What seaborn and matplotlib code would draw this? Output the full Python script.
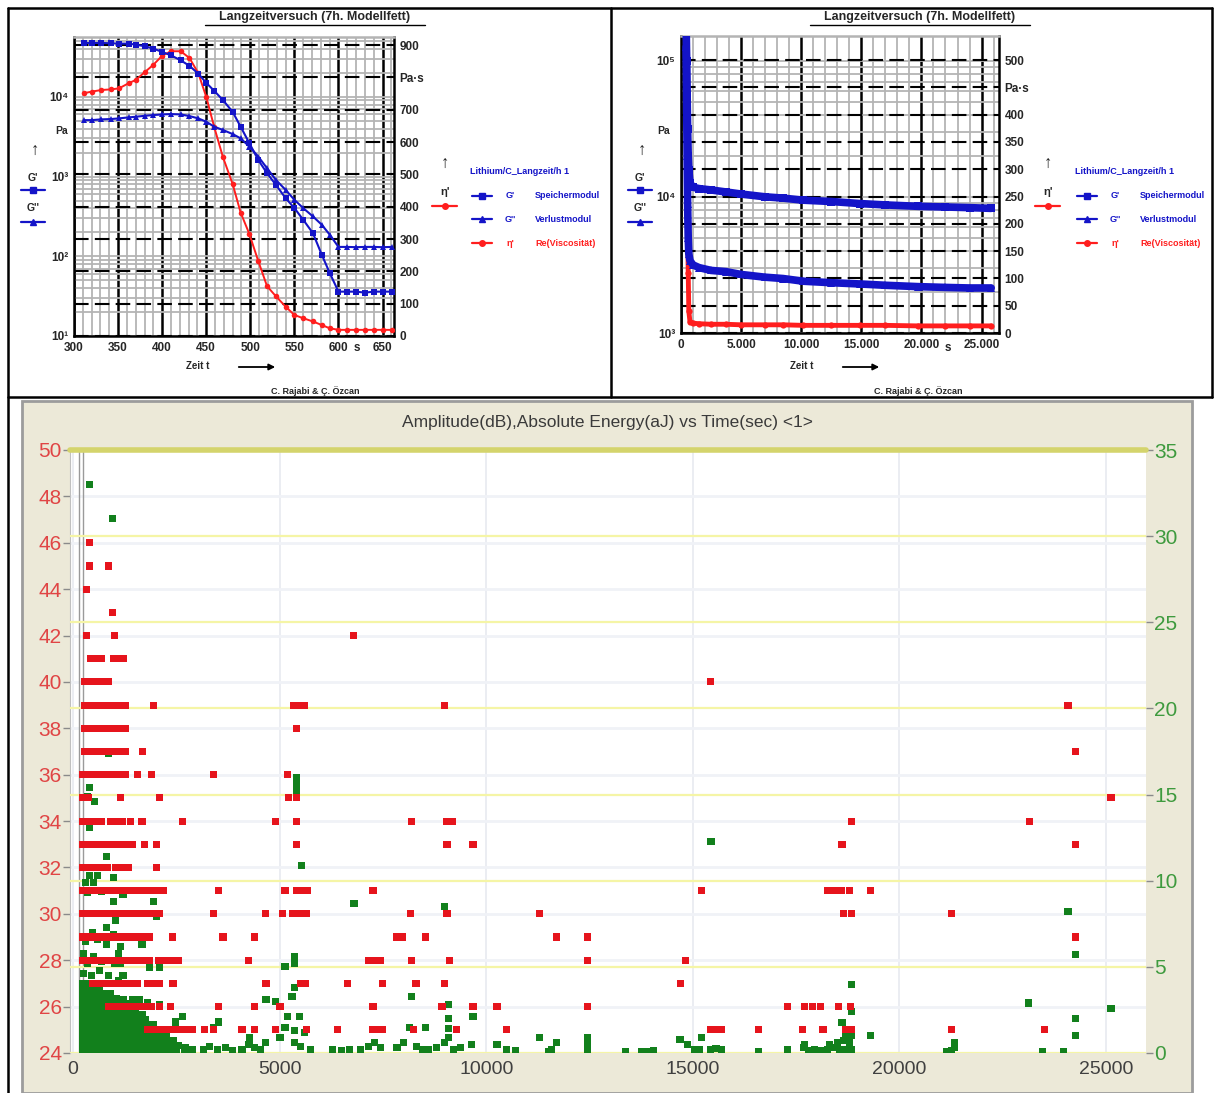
# -*- coding: utf-8 -*-
# Langzeitversuch panels (rheometer) + AE amplitude / energy scatter
import numpy as np
import pandas as pd
import matplotlib
matplotlib.use('Agg')
from matplotlib import pyplot as plt
from matplotlib.lines import Line2D
from matplotlib.patches import Rectangle, FancyArrowPatch
from matplotlib.ticker import MultipleLocator, LogLocator, NullFormatter
import seaborn as sns

sns.set_style("white")
plt.rcParams['font.family'] = ['Liberation Sans', 'DejaVu Sans']

# ~~~~~~~~~~~~~~~~~~~~~~~~~~~~~~~~~~~~~~~~~~~~~~~~~~~~~~~~~~~~~~~~~~~~~~~~
# Top left: detail 300 ... 660 s
zoom_time = [311, 320, 331, 342, 351, 362, 370, 381, 390, 400, 410, 421, 431, 441, 450, 459, 469, 480,
             489, 499, 509, 519, 529, 540, 550, 560, 571, 581, 590, 600, 610, 620, 630, 640, 650, 661]
zoom_g1 = [47300, 47300, 47300, 47000, 46450, 46450, 45100, 42950, 40180, 36560, 33110, 28710, 24430, 19500,
           14960, 11890, 9080, 6460, 4220, 2610, 1615, 1100, 787, 537, 402, 287, 195, 105, 62, 36,
           36, 36, 35, 36, 36, 36]
zoom_g2 = [5100, 5100, 5210, 5260, 5360, 5520, 5620, 5790, 5900, 6010, 6070, 6010, 5730, 5360,
           4870, 4220, 3830, 3410, 3010, 2370, 1780, 1270, 908, 681, 511, 402, 316, 249, 187, 131,
           131, 130, 131, 131, 130, 131]
zoom_eta = [751, 756, 761, 763, 766, 782, 792, 818, 839, 867, 881, 881, 860, 813, 740, 647, 553, 470,
            382, 315, 232, 154, 123, 91, 65, 55, 45, 34, 24, 19, 19, 19, 19, 19, 19, 19]

# Top right: whole run
run_time = [430, 470, 510, 550, 600, 650, 750, 1000, 1500, 2500, 3750, 5000, 6950, 8500, 10150,
            12500, 14900, 17000, 19700, 22000, 24000, 25800]
run_g1 = [178000, 100000, 56200, 31600, 20000, 15850, 12590, 11750, 11480, 11220, 10840, 10470, 10000,
          9770, 9440, 9230, 8910, 8710, 8510, 8410, 8320, 8220]
run_g2 = [125900, 50100, 19950, 8910, 5010, 3800, 3390, 3160, 3020, 2880, 2820, 2690, 2570, 2510,
          2400, 2340, 2290, 2240, 2190, 2160, 2140, 2140]
run_eta = [560, 430, 320, 200, 110, 40, 20, 18, 17, 16, 16, 15, 15, 15, 14, 14, 14, 14, 13, 13, 13, 13]

# Bottom: AE hits, amplitude (dB) per level -> hit times (s)
amp_levels = [46, 45, 44, 43, 42, 41, 40, 39, 38, 37, 36, 35, 34, 33, 32, 31, 30, 29, 28, 27, 26, 25]
amp_level_times = [
    [400],
    [400, 850],
    [330],
    [950],
    [330, 1000, 6780],
    [430, 560, 700, 980, 1100, 1210],
    [280, 420, 560, 700, 860, 15420],
    [280, 420, 560, 700, 860, 1000, 1140, 1270, 1940, 5330, 5470, 5600, 8980, 24080],
    [280, 420, 560, 700, 840, 980, 1120, 1270, 5400],
    [280, 420, 560, 700, 840, 980, 1120, 1270, 1690, 24270],
    [230, 380, 530, 700, 830, 980, 1120, 1260, 1570, 1910, 3390, 5180],
    [230, 380, 1140, 2100, 5220, 5400, 25120],
    [230, 380, 530, 700, 900, 1050, 1200, 1400, 1670, 2660, 4890, 5400, 8200, 9050, 9180, 18850, 23140],
    [230, 380, 530, 680, 830, 970, 1140, 1290, 1450, 1740, 2030, 5400, 9050, 9680, 18610, 24270],
    [230, 380, 530, 680, 830, 1020, 1170, 1330, 2030],
    [230, 380, 530, 680, 830, 980, 1130, 1280, 1450, 1620, 1770, 1920, 2060, 2180, 3510, 5130, 5420,
     5560, 5680, 7260, 15220, 18250, 18420, 18600, 18800, 19310],
    [230, 380, 530, 680, 830, 960, 1090, 1210, 1350, 1500, 1650, 1800, 1950, 2100, 3390, 4650, 5060,
     5320, 5480, 5640, 8160, 9050, 11300, 18650, 18850, 21270],
    [230, 380, 530, 680, 830, 980, 1130, 1280, 1430, 1580, 1730, 1860, 2400, 3630, 4400, 7840, 7980,
     8520, 11710, 12440, 24270],
    [230, 380, 530, 680, 830, 980, 1130, 1280, 1430, 1580, 1730, 1860, 2060, 2200, 2350, 2540, 4240,
     7150, 7300, 7450, 8200, 9120, 12440, 14830],
    [480, 630, 780, 930, 1080, 1230, 1380, 1570, 1810, 1960, 2100, 2420, 4670, 5500, 5620, 6650, 7480,
     8300, 9000, 14700],
    [850, 1000, 1150, 1300, 1450, 1600, 1750, 1900, 2100, 2350, 3510, 4400, 5010, 7260, 8930, 9680,
     10260, 12460, 17300, 17700, 17900, 18100, 18520, 18820],
    [1810, 1960, 2110, 2260, 2410, 2560, 2720, 2880, 3190, 3390, 4090, 4400, 4890, 5660, 6390, 7240,
     7380, 7500, 8230, 9290, 10500, 15420, 15560, 15700, 16600, 17650, 18150, 18700, 18850, 21270, 23500],
]

# absolute energy (aJ): dense early cluster, one row per energy level
energy_levels = [0.15, 0.45, 0.75, 1.05, 1.35, 1.65, 1.95, 2.25, 2.55, 2.85, 3.15, 3.45, 3.75, 4.05]
energy_level_times = [
    [220, 370, 500, 650, 790, 930, 1080, 1210, 1360, 1510, 1640, 1790, 1930, 2080, 2210, 2360, 2500, 2700, 2860],
    [230, 360, 520, 660, 810, 950, 1090, 1230, 1380, 1520, 1670, 1810, 1950, 2100, 2240, 2400, 2560],
    [220, 370, 510, 650, 800, 940, 1080, 1230, 1370, 1520, 1660, 1800, 1960, 2100, 2250, 2420],
    [230, 370, 520, 660, 810, 950, 1100, 1240, 1380, 1530, 1670, 1820, 1960, 2110, 2270],
    [220, 360, 510, 650, 790, 940, 1080, 1230, 1370, 1520, 1660, 1800, 1950, 2100],
    [230, 370, 510, 660, 800, 950, 1090, 1230, 1380, 1520, 1670, 1810, 1950],
    [220, 360, 500, 650, 790, 930, 1080, 1220, 1370, 1510, 1650, 1760],
    [230, 370, 520, 660, 800, 950, 1090, 1240, 1380, 1530, 1680],
    [220, 360, 510, 650, 790, 940, 1080, 1230, 1370, 1520],
    [230, 370, 510, 660, 800, 940, 1090, 1230, 1330],
    [220, 360, 500, 650, 790, 930, 1060],
    [230, 370, 520, 660, 800, 900],
    [220, 360, 500, 640],
    [240, 380, 520],
]
# scattered energy hits
energy_time = [410, 950, 850, 410, 530, 350, 410, 800, 400, 600, 970, 300, 500, 350, 700, 1210, 970,
               1940, 360, 1020, 2030, 820, 480, 970, 300, 600, 800, 1670, 1160, 1100, 250, 500, 350,
               700, 1000, 1160, 1860, 2100, 250, 450, 650, 850, 1210, 1100,
               1210, 1430, 1620, 1810, 2100, 2470, 2660, 3390, 3510, 2710, 2880, 3150, 3300, 3500,
               3700, 3870, 4090, 4250, 4400, 4530,
               4280, 4280, 4650, 5010, 5370, 5500, 5740, 6290, 6500, 6700, 6950, 7150, 7300, 7450,
               7840, 8000, 8320, 8470, 8590, 8800, 9000, 9200, 9370, 9650, 10260, 10500, 10700,
               11300, 11500,
               5400, 5400, 5400, 5520, 6800, 8980, 5370, 5370, 5130, 5370, 5300, 8200, 4670, 4890,
               9080, 5180, 5470, 9080, 9680, 5130, 5370, 5610, 8150, 8520, 9080, 9080,
               15440, 18830, 18850, 18610, 11710, 11590, 12440, 12440, 12440, 13360, 13770, 13900,
               14040, 14690, 14860, 15030, 15170, 15220, 15420, 15560, 15700, 16580, 17300,
               17670, 17800, 17950, 18100, 18250, 18400, 18550, 18700, 18850, 18300, 18500, 18650,
               18800, 18850, 18700, 17700,
               19310, 21150, 21250, 21340, 21340, 23130, 23470, 23980, 24080, 24270, 24270, 24270, 25120]
energy_aj = [33.0, 31.0, 17.4, 15.4, 14.6, 14.9, 13.1, 11.4, 10.3, 10.3, 10.2, 9.9, 9.9, 9.3, 9.4, 9.2,
             8.8, 8.8, 8.1, 7.7, 7.9, 7.3, 7.0, 6.9, 6.5, 6.6, 6.3, 6.3, 6.2, 5.8, 5.8, 5.6, 5.2, 5.3,
             5.2, 5.2, 4.95, 4.95, 4.6, 4.5, 4.8, 4.5, 4.5, 4.2,
             3.1, 3.1, 3.1, 2.9, 2.8, 1.8, 2.1, 1.5, 1.8, 0.3, 0.2, 0.2, 0.4, 0.2,
             0.3, 0.15, 0.2, 0.5, 0.3, 0.2,
             0.9, 0.6, 0.6, 0.9, 0.6, 0.4, 0.2, 0.2, 0.15, 0.2, 0.2, 0.4, 0.6, 0.3,
             0.3, 0.6, 0.4, 0.2, 0.2, 0.3, 0.6, 0.2, 0.3, 0.5, 0.5, 0.2, 0.15,
             0.9, 0.1,
             15.2, 15.6, 16.0, 10.9, 8.7, 8.5, 5.6, 5.2, 5.0, 3.8, 3.3, 3.3, 3.1, 3.0,
             2.8, 2.1, 2.1, 2.0, 2.1, 1.5, 1.3, 1.2, 1.5, 1.5, 1.4, 0.9,
             12.3, 4.0, 2.4, 1.75, 0.6, 0.2, 0.9, 0.5, 0.2, 0.1, 0.1, 0.1,
             0.15, 0.8, 0.5, 0.2, 0.2, 0.9, 0.2, 0.25, 0.2, 0.1, 0.2,
             0.3, 0.15, 0.2, 0.15, 0.2, 0.3, 0.2, 0.2, 0.2, 0.5, 0.6, 0.7,
             0.6, 1.0, 1.0, 0.5,
             1.0, 0.1, 0.15, 0.3, 0.6, 2.9, 0.1, 0.1, 8.2, 5.7, 2.0, 1.0, 2.6]

amp_df = pd.DataFrame({'t': [t for ts in amp_level_times for t in ts],
                       'db': [lv for lv, ts in zip(amp_levels, amp_level_times) for _ in ts]})
en_df = pd.DataFrame({'t': [t for ts in energy_level_times for t in ts] + energy_time,
                      'aj': [lv for lv, ts in zip(energy_levels, energy_level_times) for _ in ts] + energy_aj})

# ~~~~~~~~~~~~~~~~~~~~~~~~~~~~~~~~~~~~~~~~~~~~~~~~~~~~~~~~~~~~~~~~~~~~~~~~
W, H = 1214, 1093
BLUE = '#1414c8'
RED = '#ff1e1e'
GRAY_GRID = '#b4b4b4'


def box(x0, y0, x1, y1):
    return [x0 / W, 1 - y1 / H, (x1 - x0) / W, (y1 - y0) / H]


def ftext(x, y, s, **kw):
    kw.setdefault('ha', 'center')
    kw.setdefault('va', 'center')
    fig.text(x / W, 1 - y / H, s, **kw)


def fline(xs, ys, **kw):
    fig.add_artist(Line2D([x / W for x in xs], [1 - y / H for y in ys], **kw))


def sample(x0, x1, y, color, marker, ms):
    fline([x0, x1], [y, y], color=color, lw=1.6)
    fline([(x0 + x1) / 2], [y], color=color, marker=marker, ms=ms, lw=0)


def arrow(x0, x1, y):
    fig.add_artist(FancyArrowPatch((x0 / W, 1 - y / H), (x1 / W, 1 - y / H), transform=fig.transFigure,
                                   arrowstyle='-|>', mutation_scale=9, lw=1.3, color='black'))


def bold(ax):
    for lab in ax.get_xticklabels() + ax.get_yticklabels():
        lab.set_fontweight('bold')


fig = plt.figure(figsize=(W / 100, H / 100), dpi=100)
fig.patch.set_facecolor('white')

# frames
fline([8, 1212], [8, 8], color='black', lw=1.8)
fline([8, 1212], [397, 397], color='black', lw=1.8)
fline([8, 8], [8, 1093], color='black', lw=1.8)
fline([611, 611], [8, 397], color='black', lw=1.8)
fline([1212, 1212], [8, 397], color='black', lw=1.8)
fig.add_artist(Rectangle((22 / W, 0), (1192 - 22) / W, (1093 - 401) / H, transform=fig.transFigure,
                         facecolor='#ece9d8', edgecolor='#9c9c9c', lw=2, zorder=-1))


def rheo_panel(pos, xlim, glim, elim, xmaj, xmin, xlabels, glabels, etick, eunit_at,
               t, g1, g2, eta, band):
    ax = fig.add_axes(pos)
    ax.set_yscale('log')
    ax.set_xlim(*xlim)
    ax.set_ylim(*glim)
    ax.set_xticks(xmaj)
    ax.set_xticklabels(xlabels)
    ax.xaxis.set_minor_locator(MultipleLocator(xmin))
    ax.set_yticks([glim[0] * 10 ** k for k in range(len(glabels))])
    ax.set_yticklabels(glabels)
    ax.yaxis.set_minor_locator(LogLocator(base=10, subs=np.arange(2, 10), numticks=50))
    ax.yaxis.set_minor_formatter(NullFormatter())
    ax.grid(which='minor', color=GRAY_GRID, lw=1.3)
    ax.grid(which='major', axis='y', color=GRAY_GRID, lw=1.3)
    ax.grid(which='major', axis='x', color='black', lw=1.8)
    ax.tick_params(which='both', length=0, labelsize=8.5, pad=4)
    for sp in ax.spines.values():
        sp.set_color('black')
        sp.set_linewidth(1.8)
    ax.spines['top'].set_color(GRAY_GRID)
    bold(ax)

    ax2 = ax.twinx()
    ax2.set_ylim(*elim)
    ax2.set_yticks(etick)
    ax2.set_yticklabels(['Pa·s' if v == eunit_at else str(v) for v in etick])
    ax2.grid(axis='y', color='black', lw=1.5, linestyle=(0, (7, 3)))
    ax2.tick_params(length=0, labelsize=8.5, pad=4)
    for sp in ax2.spines.values():
        sp.set_visible(False)
    sns.lineplot(x=t, y=eta, ax=ax2, color=RED, marker='o', markersize=4 if not band else 4.5,
                 markeredgewidth=0, linewidth=1.4 if not band else 3.5)
    ax2.set_ylabel('')
    bold(ax2)

    ax3 = ax.twinx()
    ax3.set_yscale('log')
    sns.lineplot(x=t, y=g1, ax=ax3, color=BLUE, marker='s', markersize=4.5 if not band else 5.5,
                 markeredgewidth=0, linewidth=1.5 if not band else 5.5)
    sns.lineplot(x=t, y=g2, ax=ax3, color=BLUE, marker='^', markersize=5 if not band else 5.5,
                 markeredgewidth=0, linewidth=1.5 if not band else 5.5)
    ax3.set_ylim(*glim)
    ax3.set_axis_off()
    ax.set_xlim(*xlim)
    return ax


# ---- top left ----
rheo_panel(box(74, 37, 394, 336), (300, 663), (10, 10 ** 4.75), (0, 925),
           list(range(300, 651, 50)), 10, [str(v) for v in range(300, 651, 50)],
           ['10¹', '10²', '10³', '10⁴'], list(range(0, 901, 100)), 800,
           zoom_time, zoom_g1, zoom_g2, zoom_eta, False)
# ---- top right ----
rheo_panel(box(681, 36, 999, 333), (0, 26450), (1000, 10 ** 5.18), (0, 544),
           list(range(0, 25001, 5000)), 1000, ['0', '5.000', '10.000', '15.000', '20.000', '25.000'],
           ['10³', '10⁴', '10⁵'], list(range(0, 501, 50)), 450,
           run_time, run_g1, run_g2, run_eta, True)

# panel annotations (both top panels)
for title_x, foot_x, zeit_x, s_x, leg_x, eta_x, pa_x, gl_x in [
        (315, 315, 198, 357, 470, 445, 62, 33),
        (920, 918, 802, 948, 1075, 1048, 664, 640)]:
    ftext(title_x, 17, 'Langzeitversuch (7h. Modellfett)', fontsize=9, fontweight='bold')
    fline([title_x - 110, title_x + 110], [25, 25], color='black', lw=1)
    ftext(foot_x, 391, 'C. Rajabi & Ç. Özcan', fontsize=6.5, fontweight='bold')
    ftext(zeit_x, 366, 'Zeit t', fontsize=7, fontweight='bold')
    arrow(zeit_x + 38, zeit_x + 80, 367)
    ftext(s_x, 348, 's', fontsize=8.5, fontweight='bold')
    ftext(pa_x, 131, 'Pa', fontsize=7.5, fontweight='bold')
    ftext(gl_x + 2, 150, '↑', fontsize=12, fontweight='bold')
    ftext(gl_x, 178, "G'", fontsize=7.5, fontweight='bold')
    sample(gl_x - 12, gl_x + 12, 190, BLUE, 's', 4)
    ftext(gl_x, 208, "G''", fontsize=7.5, fontweight='bold')
    sample(gl_x - 12, gl_x + 12, 222, BLUE, '^', 4.5)
    ftext(eta_x, 163, '↑', fontsize=12, fontweight='bold')
    ftext(eta_x, 192, "η'", fontsize=8, fontweight='bold')
    sample(eta_x - 13, eta_x + 12, 206, RED, 'o', 4)
    ftext(leg_x, 172, 'Lithium/C_Langzeit/h 1', fontsize=6.5, fontweight='bold', color=BLUE, ha='left')
    for yy, sym, txt, col, mk in [(196, "G'", 'Speichermodul', BLUE, 's'),
                                  (219, "G''", 'Verlustmodul', BLUE, '^'),
                                  (243, "η'", 'Re(Viscosität)', RED, 'o')]:
        sample(leg_x + 2, leg_x + 22, yy, col, mk, 4)
        ftext(leg_x + 40, yy, sym, fontsize=6.5, fontweight='bold', color=col)
        ftext(leg_x + 65, yy, txt, fontsize=6.5, fontweight='bold', color=col, ha='left')

# ---- bottom: AE hits ----
ax = fig.add_axes(box(70, 450, 1146, 1053))
ax.set_facecolor('white')
ax.set_xlim(-73, 25967)
ax.set_ylim(24, 50)
ax.set_yticks(range(24, 51, 2))
ax.set_xticks(range(0, 25001, 5000))
ax.grid(axis='y', color='#f0f2f7', lw=2)
ax.grid(axis='x', color='#e8eaf0', lw=1.2)
ax.set_axisbelow(True)
for sp in ax.spines.values():
    sp.set_visible(False)
ax.spines['left'].set_visible(True)
ax.spines['left'].set_color('#c0c0c0')
ax.axvline(150, color='#9a9a9a', lw=1)
ax.axvline(250, color='#9a9a9a', lw=1)
ax.tick_params(axis='y', colors='#8a8a8a', labelcolor='#e04545', labelsize=15, length=5, width=1, pad=1)
ax.tick_params(axis='x', length=0, labelcolor='#404040', labelsize=14, pad=6)

ax2 = ax.twinx()
ax2.set_ylim(0, 35)
ax2.set_yticks(range(0, 36, 5))
ax2.grid(axis='y', color='#f5f5a6', lw=1.6)
ax2.axhline(35, color='#d4d46c', lw=4, clip_on=False)
ax2.tick_params(axis='y', colors='#8a8a8a', labelcolor='#3e9a3e', labelsize=15, length=5, width=1, pad=1)
for sp in ax2.spines.values():
    sp.set_visible(False)
sns.scatterplot(data=en_df, x='t', y='aj', ax=ax2, marker='s', s=26, color='#12801c',
                edgecolor='none', linewidth=0)
ax2.set_ylabel('')
ax2.set_ylim(0, 35)

ax3 = ax.twinx()
sns.scatterplot(data=amp_df, x='t', y='db', ax=ax3, marker='s', s=26, color='#e6141c',
                edgecolor='none', linewidth=0)
ax3.set_ylim(24, 50)
ax3.set_axis_off()
ax.set_xlim(-73, 25967)
ax.set_xlabel('')

ftext(607, 423, 'Amplitude(dB),Absolute Energy(aJ) vs Time(sec) <1>', fontsize=12.5, color='#3a3a3a')

fig.savefig('out.png', dpi=100)
